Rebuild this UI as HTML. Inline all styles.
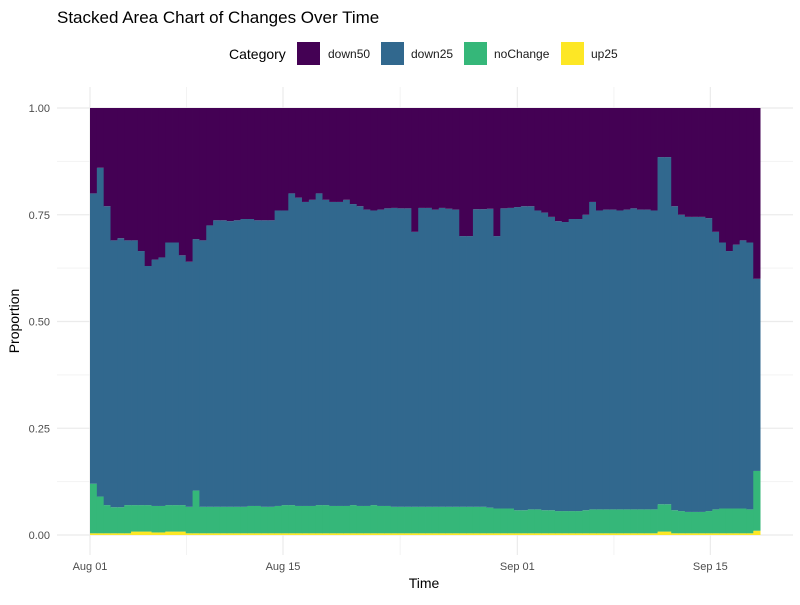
<!DOCTYPE html>
<html><head><meta charset="utf-8"><style>
body{margin:0;background:#fff;font-family:"Liberation Sans",sans-serif}
</style></head><body>
<svg width="800" height="600" xmlns="http://www.w3.org/2000/svg" font-family="Liberation Sans, sans-serif">
<text x="57" y="23" font-size="17" fill="#000">Stacked Area Chart of Changes Over Time</text>
<g>
<text x="229" y="59" font-size="14" fill="#000">Category</text>
<rect x="297" y="42" width="23" height="23" fill="#440154"/>
<text x="328" y="58" font-size="12" fill="#1a1a1a">down50</text>
<rect x="381" y="42" width="23" height="23" fill="#31688e"/>
<text x="411" y="58" font-size="12" fill="#1a1a1a">down25</text>
<rect x="464" y="42" width="23" height="23" fill="#35b779"/>
<text x="494" y="58" font-size="12" fill="#1a1a1a">noChange</text>
<rect x="561" y="42" width="23" height="23" fill="#fde725"/>
<text x="591" y="58" font-size="12" fill="#1a1a1a">up25</text>
</g>
<g id="grid"></g>
<g id="marks"></g>
<g id="axes"></g>
<text x="424" y="588" font-size="14" text-anchor="middle" fill="#000">Time</text>
<text transform="translate(19,321) rotate(-90)" font-size="14" text-anchor="middle" fill="#000">Proportion</text>
</svg>
<script>
// data: one observation per ~half day starting Aug 01
const startDay = 0;
const stepDays = 0.496;
const down50 = [0.20,0.14,0.23,0.31,0.305,0.31,0.31,0.335,0.37,0.355,0.35,0.315,0.315,0.345,0.36,0.307,0.31,0.275,0.263,0.263,0.265,0.263,0.26,0.26,0.263,0.263,0.263,0.24,0.24,0.20,0.21,0.22,0.215,0.20,0.215,0.22,0.22,0.215,0.225,0.23,0.238,0.24,0.238,0.235,0.234,0.235,0.235,0.29,0.234,0.234,0.238,0.234,0.236,0.238,0.30,0.30,0.237,0.237,0.236,0.30,0.235,0.234,0.232,0.23,0.23,0.24,0.245,0.255,0.265,0.267,0.26,0.26,0.25,0.22,0.24,0.238,0.238,0.24,0.238,0.235,0.238,0.238,0.24,0.115,0.115,0.23,0.25,0.255,0.255,0.255,0.258,0.29,0.315,0.335,0.32,0.31,0.315,0.40];
const noChange = [0.116,0.086,0.066,0.061,0.061,0.066,0.062,0.062,0.062,0.062,0.062,0.062,0.062,0.062,0.062,0.10,0.062,0.062,0.062,0.062,0.062,0.062,0.062,0.064,0.064,0.062,0.062,0.064,0.066,0.066,0.064,0.064,0.064,0.066,0.066,0.064,0.064,0.064,0.066,0.064,0.064,0.066,0.064,0.064,0.062,0.062,0.062,0.062,0.062,0.062,0.062,0.062,0.062,0.062,0.062,0.062,0.062,0.062,0.060,0.058,0.058,0.058,0.054,0.054,0.056,0.056,0.054,0.054,0.052,0.052,0.052,0.052,0.054,0.056,0.056,0.056,0.056,0.056,0.056,0.056,0.056,0.056,0.056,0.064,0.064,0.054,0.052,0.050,0.050,0.050,0.052,0.056,0.058,0.058,0.058,0.058,0.056,0.14];
const up25 = [0.004,0.004,0.004,0.004,0.004,0.004,0.008,0.008,0.008,0.006,0.006,0.008,0.008,0.008,0.004,0.004,0.004,0.004,0.004,0.004,0.004,0.004,0.004,0.004,0.004,0.004,0.004,0.004,0.004,0.004,0.004,0.004,0.004,0.004,0.004,0.004,0.004,0.004,0.004,0.004,0.004,0.004,0.004,0.004,0.004,0.004,0.004,0.004,0.004,0.004,0.004,0.004,0.004,0.004,0.004,0.004,0.004,0.004,0.004,0.004,0.004,0.004,0.004,0.004,0.004,0.004,0.004,0.004,0.004,0.004,0.004,0.004,0.004,0.004,0.004,0.004,0.004,0.004,0.004,0.004,0.004,0.004,0.004,0.008,0.008,0.004,0.004,0.004,0.004,0.004,0.004,0.004,0.004,0.004,0.004,0.004,0.004,0.010];
const xTickLabels = ["Aug 01","Aug 15","Sep 01","Sep 15"];
const xTickDays = [0,14,31,45];
const yTicks = [0,0.25,0.5,0.75,1];
const yTickLabels = ["0.00","0.25","0.50","0.75","1.00"];

const NS = "http://www.w3.org/2000/svg";
function xScale(d){ return 90 + d * 13.786; }
function yScale(v){ return 535 - v * 427; }
function mk(tag, attrs, parent){ const e = document.createElementNS(NS, tag); for (const k in attrs) e.setAttribute(k, attrs[k]); parent.appendChild(e); return e; }
const grid = document.getElementById('grid');
const marks = document.getElementById('marks');
const axes = document.getElementById('axes');
for (let i = 0; i < yTicks.length - 1; i++) {
  const l = mk('line', {x1: 57, x2: 793, y1: yScale((yTicks[i]+yTicks[i+1])/2), y2: yScale((yTicks[i]+yTicks[i+1])/2), stroke: '#f3f3f3', 'stroke-width': 1}, grid);
  
  
}
for (let i = 0; i < xTickDays.length - 1; i++) {
  const xm = xScale((xTickDays[i]+xTickDays[i+1])/2);
  const l = mk('line', {x1: xm, x2: xm, y1: 87, y2: 555, stroke: '#f3f3f3', 'stroke-width': 1}, grid);
  
  
}
yTicks.forEach((t, i) => {
  const l = mk('line', {x1: 57, x2: 793, y1: yScale(t), y2: yScale(t), stroke: '#ebebeb', 'stroke-width': 1.2}, grid);
  
  
  const tx = mk('text', {x: 50, y: yScale(t) + 4, 'font-size': 11, 'text-anchor': 'end', fill: '#4d4d4d'}, axes);
  tx.textContent = yTickLabels[i];
  
  
});
xTickDays.forEach((d, i) => {
  const l = mk('line', {x1: xScale(d), x2: xScale(d), y1: 87, y2: 555, stroke: '#ebebeb', 'stroke-width': 1.2}, grid);
  
  
  const tx = mk('text', {x: xScale(d), y: 570, 'font-size': 11, 'text-anchor': 'middle', fill: '#4d4d4d'}, axes);
  tx.textContent = xTickLabels[i];
  
  
});
for (let i = 0; i < down50.length; i++) {
  const x0 = xScale(startDay + i * stepDays), x1 = xScale(startDay + (i + 1) * stepDays);
  const w = x1 - x0 + 0.4;
  const segs = [[up25[i], '#fde725', 'up25'], [noChange[i], '#35b779', 'noChange'], [1 - up25[i] - noChange[i] - down50[i], '#31688e', 'down25'], [down50[i], '#440154', 'down50']];
  let acc = 0;
  segs.forEach(s => {
    const r = mk('rect', {x: x0, width: w, y: yScale(acc + s[0]), height: Math.max(0, yScale(acc) - yScale(acc + s[0])), fill: s[1]}, marks);
    
    
    acc += s[0];
  });
}
</script>
</body></html>
